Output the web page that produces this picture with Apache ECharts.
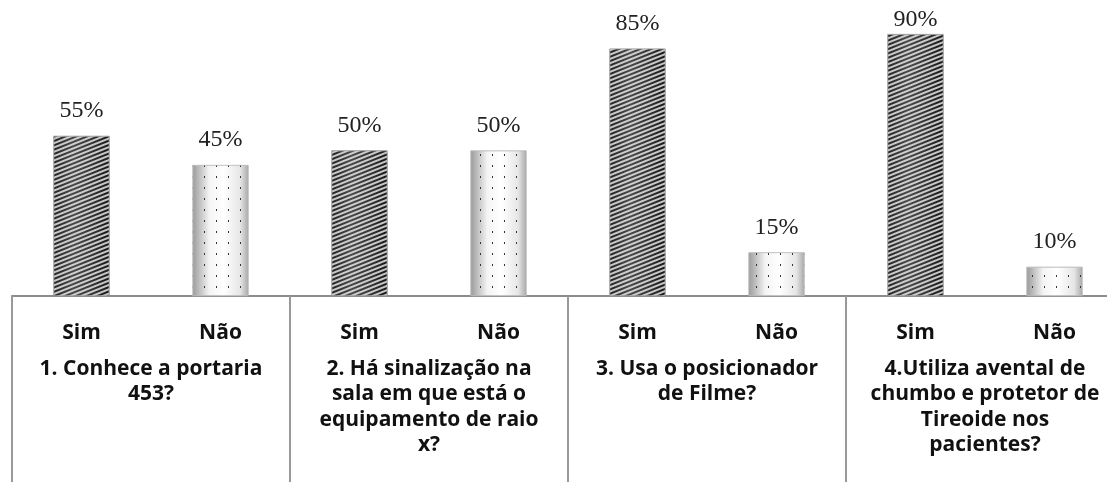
<!DOCTYPE html>
<html>
<head>
<meta charset="utf-8">
<script src="https://cdn.jsdelivr.net/npm/echarts@6/dist/echarts.min.js"></script>
<style>
  html, body { margin: 0; padding: 0; background: #fff; }
  #chart { width: 1107px; height: 482px; }
</style>
</head>
<body>
<div id="chart"></div>
<script>
const questions = [
  "1. Conhece a portaria\n453?",
  "2. Há sinalização na\nsala em que está o\nequipamento de raio\nx?",
  "3. Usa o posicionador\nde Filme?",
  "4.Utiliza avental de\nchumbo e protetor de\nTireoide nos\npacientes?"
];
const answers = ["Sim", "Não"];
const simValues = [55, 50, 85, 90];
const naoValues = [45, 50, 15, 10];

// one slot per answer inside each question
const slots = [];
const simData = [];
const naoData = [];
questions.forEach((q, i) => {
  slots.push(answers[0], answers[1]);
  // labels near the top edge get pulled closer to the bar, like in the original
  simData.push(simValues[i] > 88 ? { value: simValues[i], label: { distance: 2 } } : simValues[i], "-");
  naoData.push("-", naoValues[i]);
});

const chart = echarts.init(document.getElementById("chart"));

const valueLabel = {
  show: true,
  position: "top",
  distance: 13,
  formatter: (p) => p.value + "%",
  fontFamily: "Liberation Serif",
  fontSize: 24,
  color: "#222"
};

chart.setOption({
  animation: false,
  grid: { left: 12, width: 1112, top: 5, bottom: 186, outerBoundsMode: "none", containLabel: false },
  xAxis: [
    {
      type: "category",
      data: slots,
      position: "bottom",
      axisLine: { lineStyle: { color: "#8c8c8c", width: 2 } },
      axisTick: { show: false },
      axisLabel: {
        interval: 0,
        margin: 27,
        fontFamily: "Open Sans",
        fontWeight: "bold",
        fontSize: 21,
        color: "#111"
      }
    },
    {
      type: "category",
      data: questions,
      position: "bottom",
      axisLine: { show: false },
      axisTick: { show: true, length: 190, interval: 0, lineStyle: { color: "#999", width: 2 } },
      axisLabel: {
        interval: 0,
        margin: 60,
        fontFamily: "Open Sans",
        fontWeight: "bold",
        fontSize: 21,
        lineHeight: 25.5,
        color: "#111",
        verticalAlign: "top"
      }
    }
  ],
  yAxis: {
    type: "value",
    min: 0,
    max: 100,
    show: false,
    splitLine: { show: false }
  },
  series: [
    {
      name: "Sim",
      type: "bar",
      data: simData,
      barWidth: 56,
      barGap: "-100%",
      label: valueLabel,
      itemStyle: {
        color: {
          type: "linear", x: 0, y: 0, x2: 1, y2: 0,
          colorStops: [
            { offset: 0, color: "#222" },
            { offset: 0.35, color: "#4a4a4a" },
            { offset: 0.7, color: "#333" },
            { offset: 1, color: "#161616" }
          ]
        },
        borderColor: "#9a9a9a",
        borderWidth: 0.6,
        decal: {
          symbol: "rect",
          symbolSize: 1,
          dashArrayX: [[1, 0]],
          dashArrayY: [2, 2],
          rotation: -0.38,
          color: "rgba(240,240,240,0.8)"
        }
      }
    },
    {
      name: "Não",
      type: "bar",
      data: naoData,
      barWidth: 56,
      label: valueLabel,
      itemStyle: {
        color: {
          type: "linear", x: 0, y: 0, x2: 1, y2: 0,
          colorStops: [
            { offset: 0, color: "#9a9a9a" },
            { offset: 0.3, color: "#f4f4f4" },
            { offset: 0.55, color: "#ffffff" },
            { offset: 0.85, color: "#e6e6e6" },
            { offset: 1, color: "#a8a8a8" }
          ]
        },
        borderColor: "#bbb",
        borderWidth: 0.6,
        decal: {
          symbol: "rect",
          symbolSize: 1,
          dashArrayX: [1, 11],
          dashArrayY: [2, 9],
          color: "#333"
        }
      }
    }
  ]
});
</script>
</body>
</html>
